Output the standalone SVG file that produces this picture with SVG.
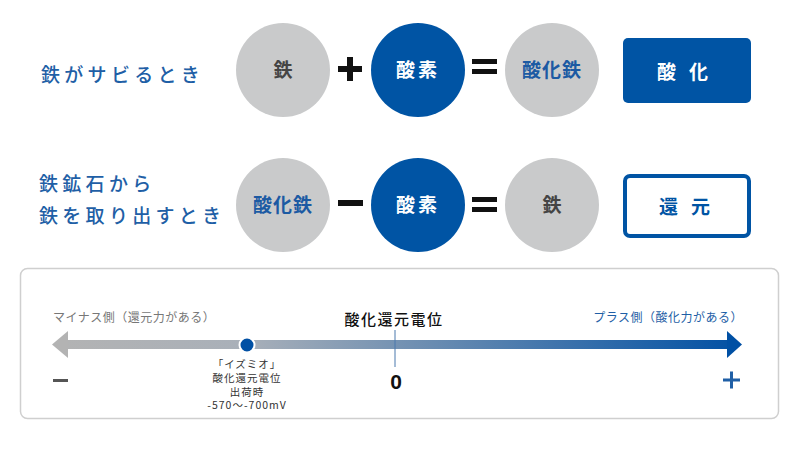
<svg xmlns="http://www.w3.org/2000/svg" width="800" height="450" viewBox="0 0 800 450">
<defs>
<style>
.jp{font-family:"Noto Sans CJK JP","Noto Sans",sans-serif}
.lbl{font-family:"Noto Sans CJK JP",sans-serif;font-size:19px;font-weight:500;fill:#1f5fa6;letter-spacing:4.3px}
.gc{fill:#c9cacb}
.bc{fill:#0054a4}
.ct{font-family:"Noto Sans CJK JP",sans-serif;font-weight:700;font-size:19px;text-anchor:middle}
.op{fill:#111}
</style>
<linearGradient id="g" x1="52" y1="0" x2="742" y2="0" gradientUnits="userSpaceOnUse">
<stop offset="0" stop-color="#b3b3b3"/>
<stop offset="0.28" stop-color="#a9b0b9"/>
<stop offset="1" stop-color="#0050a4"/>
</linearGradient>
</defs>
<rect width="800" height="450" fill="#fff"/>

<g id="row1">
<text class="lbl" x="41" y="82">鉄がサビるとき</text>
<g id="c1"><circle class="gc" cx="283" cy="70" r="47"/><text class="ct" x="283" y="77" fill="#444">鉄</text></g>
<g id="plus"><rect class="op" x="338" y="66" width="24" height="6"/><rect class="op" x="347" y="57" width="6" height="24"/></g>
<g id="c2"><circle class="bc" cx="418" cy="70" r="47"/><text class="ct" x="418" y="77" fill="#fff" letter-spacing="3">酸素</text></g>
<g id="eq1"><rect class="op" x="472" y="59" width="25" height="5"/><rect class="op" x="472" y="69" width="25" height="5"/></g>
<g id="c3"><circle class="gc" cx="552" cy="70" r="47"/><text class="ct" x="552" y="77" fill="#1c5aa3" letter-spacing="1">酸化鉄</text></g>
<g id="b1"><rect x="623" y="38" width="128" height="65" rx="5" fill="#0054a4"/><text class="ct" x="689" y="79" fill="#fff" font-size="22" letter-spacing="13">酸化</text></g>
</g>

<g id="row2">
<text class="lbl" x="39" y="191">鉄鉱石から</text>
<text class="lbl" x="39" y="223">鉄を取り出すとき</text>
<g id="c4"><circle class="gc" cx="283" cy="205" r="47"/><text class="ct" x="283" y="212" fill="#1c5aa3" letter-spacing="1">酸化鉄</text></g>
<g id="minus"><rect class="op" x="338" y="200" width="25" height="6"/></g>
<g id="c5"><circle class="bc" cx="418" cy="205" r="47"/><text class="ct" x="418" y="212" fill="#fff" letter-spacing="3">酸素</text></g>
<g id="eq2"><rect class="op" x="472" y="197" width="25" height="5"/><rect class="op" x="472" y="207" width="25" height="5"/></g>
<g id="c6"><circle class="gc" cx="552" cy="205" r="47"/><text class="ct" x="552" y="212" fill="#444">鉄</text></g>
<g id="b2"><rect x="625" y="176" width="124" height="60" rx="5" fill="#fff" stroke="#0054a4" stroke-width="4"/><text class="ct" x="691" y="214" fill="#0054a4" font-size="22" letter-spacing="13">還元</text></g>
</g>

<g id="panel">
<rect x="20.5" y="268.5" width="758" height="150" rx="7" fill="#fff" stroke="#cfcfcf" stroke-width="1.5"/>
<text class="jp" x="53" y="322" font-size="12" fill="#777" letter-spacing="0.5">マイナス側（還元力がある）</text>
<text class="jp" x="743" y="322" font-size="12" fill="#1f5fa6" text-anchor="end" letter-spacing="0.5">プラス側（酸化力がある）</text>
<text class="jp" x="394" y="325" font-size="15" fill="#111" text-anchor="middle" font-weight="500" letter-spacing="1.5">酸化還元電位</text>
<rect x="66" y="340" width="664" height="9" fill="url(#g)"/>
<polygon points="52,344.5 68,331 68,358" fill="#b3b3b3"/>
<polygon points="742,344.5 727,331 727,358" fill="#0050a4"/>
<line x1="395" y1="330" x2="395" y2="367" stroke="#4a78ad" stroke-width="1"/>
<circle cx="247" cy="345" r="7.5" fill="#0050a4" stroke="#fff" stroke-width="2"/>
<g class="jp" font-size="10.5" fill="#333" text-anchor="middle" letter-spacing="1">
<text x="247" y="368">「イズミオ」</text>
<text x="247" y="382">酸化還元電位</text>
<text x="247" y="395.5">出荷時</text>
<text x="247" y="409">-570～-700mV</text>
</g>
<rect x="53" y="379" width="15" height="3" fill="#555"/>
<text x="396" y="389" font-family="Liberation Sans,sans-serif" font-size="21" font-weight="700" fill="#111" text-anchor="middle">0</text>
<rect x="723" y="378.5" width="17" height="3" fill="#1f5fa6"/>
<rect x="730" y="371.5" width="3" height="17" fill="#1f5fa6"/>
</g>
</svg>
